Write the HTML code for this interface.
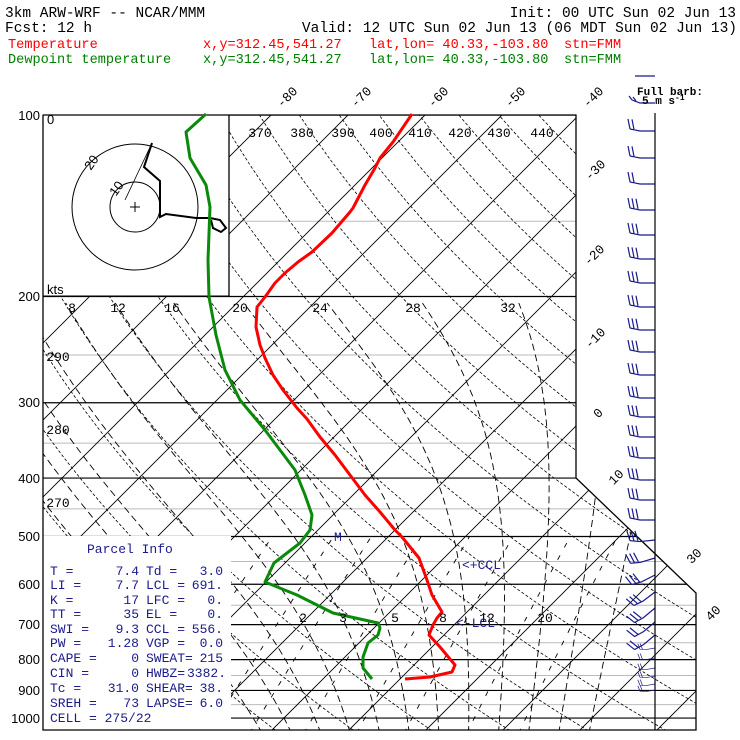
<!DOCTYPE html>
<html><head><meta charset="utf-8"><style>
html,body{margin:0;padding:0;background:#fff;}
svg{display:block;}
text{font-family:"Liberation Mono","DejaVu Sans Mono",monospace;}
.h{font-size:14.5px;fill:#000;}
.r{font-size:13.6px;fill:#f00;}
.g{font-size:13.6px;fill:#008000;}
.l{font-family:"Liberation Sans",sans-serif;font-size:13px;fill:#000;}
.b{font-size:13px;fill:#1a1a8c;}
</style></head><body>
<svg id="s" width="740" height="740" viewBox="0 0 740 740" xmlns="http://www.w3.org/2000/svg">
<defs>
<clipPath id="cp"><polygon points="43,115 576,115 576,478 696,593 696,730 43,730"/></clipPath>
</defs>
<rect width="740" height="740" fill="#fff"/>
<g id="grid" clip-path="url(#cp)"></g>
<rect x="43" y="115" width="186" height="181" fill="#fff" stroke="#000" stroke-width="1"/>
<circle cx="135" cy="207" r="25" fill="none" stroke="#000" stroke-width="1"/>
<circle cx="135" cy="207" r="63" fill="none" stroke="#000" stroke-width="1"/>
<path d="M130,207h10M135,202v10" stroke="#000" stroke-width="1"/>
<path d="M152,143 L125,200" stroke="#000" stroke-width="0.8"/>
<polyline points="152,143 144,167 160,181 160,217 166,214 196,218 210,218 220,220 226,228 221,232 213,228 211,220" fill="none" stroke="#000" stroke-width="2"/>
<text class="l" transform="translate(95,165) rotate(-55)" text-anchor="middle" font-size="12">20</text>
<text class="l" transform="translate(120,191) rotate(-55)" text-anchor="middle" font-size="12">10</text>
<text class="l" x="47" y="124" font-size="11">0</text>
<text class="l" x="47" y="294">kts</text>
<rect x="43" y="536" width="188" height="194" fill="#fff"/>
<polyline points="43,115 576,115 576,478 696,593 696,730 43,730 43,115" fill="none" stroke="#000" stroke-width="1.3"/>
<line x1="229" y1="115" x2="229" y2="296" stroke="#000" stroke-width="1.3"/>
<polyline fill="none" stroke="#0a8a0a" stroke-width="3" stroke-linejoin="round" points="206,114 186,132 190,158 206,185 210,207 208,260 209,297 216,335 225,370 240,400 255,418 265,430 280,450 295,470 305,495 312,515 310,530 300,543 274,563 265,582 297,595 333,613 378,623 380,628 378,635 368,643 363,657 363,668 372,679"/>
<polyline fill="none" stroke="#f00" stroke-width="3" stroke-linejoin="round" points="412,114 393,142 380,158 375,168 365,185 353,208 350,212 332,233 312,252 298,262 285,273 275,283 265,297 257,307 256,327 260,345 265,358 273,375 283,390 297,408 307,419 320,437 335,455 350,475 365,495 380,512 395,530 402,537 419,558 427,580 432,595 442,612 437,618 433,625 429,635 440,647 455,665 452,672 430,677 405,679"/>
<g id="barbs" stroke="#1a1a8c" stroke-width="1.2" fill="none"></g>
<line x1="655" y1="113" x2="655" y2="730" stroke="#000" stroke-width="1.2"/>
<text class="h" x="5" y="17">3km ARW-WRF -- NCAR/MMM</text>
<text class="h" x="736" y="17" text-anchor="end">Init: 00 UTC Sun 02 Jun 13</text>
<text class="h" x="5" y="32">Fcst:    12 h</text>
<text class="h" x="737" y="32" text-anchor="end">Valid: 12 UTC Sun 02 Jun 13 (06 MDT Sun 02 Jun 13)</text>
<text class="r" x="8" y="48">Temperature</text>
<text class="r" x="203" y="48">x,y=312.45,541.27</text>
<text class="r" x="369" y="48">lat,lon= 40.33,-103.80</text>
<text class="r" x="564" y="48">stn=FMM</text>
<text class="g" x="8" y="63">Dewpoint temperature</text>
<text class="g" x="203" y="63">x,y=312.45,541.27</text>
<text class="g" x="369" y="63">lat,lon= 40.33,-103.80</text>
<text class="g" x="564" y="63">stn=FMM</text>
<path d="M635,76 H655" stroke="#1a1a8c" stroke-width="1.2"/>
<path d="M655,103 H640 L632,100 M632,100 L629,96 M636,101 L633,97" stroke="#1a1a8c" stroke-width="1.2" fill="none"/>
<text x="637" y="95" font-family="Liberation Serif,serif" font-weight="bold" font-size="11">Full barb:</text>
<text x="642" y="104" font-family="Liberation Serif,serif" font-weight="bold" font-size="11">5 m s<tspan dy="-4" font-size="8">-1</tspan></text>
<g class="l" text-anchor="end">
<text x="40" y="120" class="l">100</text><text x="40" y="301" class="l">200</text><text x="40" y="407" class="l">300</text>
<text x="40" y="483" class="l">400</text><text x="40" y="541" class="l">500</text><text x="40" y="589" class="l">600</text>
<text x="40" y="629" class="l">700</text><text x="40" y="664" class="l">800</text><text x="40" y="695" class="l">900</text>
<text x="40" y="723" class="l">1000</text>
</g>
<g class="l" text-anchor="middle">
<text transform="translate(290,100) rotate(-45)">-80</text>
<text transform="translate(364,100) rotate(-45)">-70</text>
<text transform="translate(441,100) rotate(-45)">-60</text>
<text transform="translate(518,100) rotate(-45)">-50</text>
<text transform="translate(596,100) rotate(-45)">-40</text>
<text transform="translate(598,173) rotate(-45)">-30</text>
<text transform="translate(597,258) rotate(-45)">-20</text>
<text transform="translate(598,341) rotate(-45)">-10</text>
<text transform="translate(601,416) rotate(-45)">0</text>
<text transform="translate(619,480) rotate(-45)">10</text>
<text transform="translate(697,559) rotate(-45)">30</text>
<text transform="translate(716,616) rotate(-45)">40</text>
</g>
<g class="l" text-anchor="middle">
<text x="260" y="137">370</text><text x="302" y="137">380</text><text x="343" y="137">390</text><text x="381" y="137">400</text>
<text x="420" y="137">410</text><text x="460" y="137">420</text><text x="499" y="137">430</text><text x="542" y="137">440</text>
<text x="72" y="312">8</text><text x="118" y="312">12</text><text x="172" y="312">16</text><text x="240" y="312">20</text>
<text x="320" y="312">24</text><text x="413" y="312">28</text><text x="508" y="312">32</text>
<text x="58" y="361">290</text><text x="58" y="434">280</text><text x="58" y="507">270</text>
<text x="303" y="622">2</text><text x="343" y="622">3</text><text x="395" y="622">5</text>
<text x="443" y="622">8</text><text x="487" y="622">12</text><text x="545" y="622">20</text>
</g>
<text class="b" x="456" y="627" font-size="12">&lt;-LCL</text>
<text class="b" x="462" y="569" font-size="12">&lt;+CCL</text>
<text class="b" x="334" y="541" font-size="11">M</text>
<text class="b" x="87" y="553" font-size="14">Parcel Info</text>
<text class="b" x="50" y="575">T  =</text><text class="b" x="139" y="575" text-anchor="end">7.4</text><text class="b" x="146" y="575">Td =</text><text class="b" x="223" y="575" text-anchor="end">3.0</text>
<text class="b" x="50" y="589">LI =</text><text class="b" x="139" y="589" text-anchor="end">7.7</text><text class="b" x="146" y="589">LCL =</text><text class="b" x="223" y="589" text-anchor="end">691.</text>
<text class="b" x="50" y="604">K  =</text><text class="b" x="139" y="604" text-anchor="end">17</text><text class="b" x="146" y="604">LFC =</text><text class="b" x="223" y="604" text-anchor="end">0.</text>
<text class="b" x="50" y="618">TT =</text><text class="b" x="139" y="618" text-anchor="end">35</text><text class="b" x="146" y="618">EL  =</text><text class="b" x="223" y="618" text-anchor="end">0.</text>
<text class="b" x="50" y="633">SWI =</text><text class="b" x="139" y="633" text-anchor="end">9.3</text><text class="b" x="146" y="633">CCL =</text><text class="b" x="223" y="633" text-anchor="end">556.</text>
<text class="b" x="50" y="647">PW =</text><text class="b" x="139" y="647" text-anchor="end">1.28</text><text class="b" x="146" y="647">VGP =</text><text class="b" x="223" y="647" text-anchor="end">0.0</text>
<text class="b" x="50" y="662">CAPE =</text><text class="b" x="139" y="662" text-anchor="end">0</text><text class="b" x="146" y="662">SWEAT=</text><text class="b" x="223" y="662" text-anchor="end">215</text>
<text class="b" x="50" y="677">CIN =</text><text class="b" x="139" y="677" text-anchor="end">0</text><text class="b" x="146" y="677">HWBZ=</text><text class="b" x="226" y="677" text-anchor="end">3382.</text>
<text class="b" x="50" y="692">Tc =</text><text class="b" x="139" y="692" text-anchor="end">31.0</text><text class="b" x="146" y="692">SHEAR=</text><text class="b" x="223" y="692" text-anchor="end">38.</text>
<text class="b" x="50" y="707">SREH =</text><text class="b" x="139" y="707" text-anchor="end">73</text><text class="b" x="146" y="707">LAPSE=</text><text class="b" x="223" y="707" text-anchor="end">6.0</text>
<text class="b" x="50" y="722">CELL = 275/22</text>
</svg>
<script>
(function(){
var NS="http://www.w3.org/2000/svg";
var C=582,K=7.7;
function Y(p){return 115+261.9*Math.log(p/100);}
function X(T,y){return C+K*T+(420-y);}
var g=document.getElementById('grid');
function add(tag,at,par){var e=document.createElementNS(NS,tag);for(var k in at)e.setAttribute(k,at[k]);(par||g).appendChild(e);return e;}
[150,250,350,450,550,650,750,850,950].forEach(function(p){var y=Y(p);add('line',{x1:43,x2:700,y1:y,y2:y,stroke:'#bbb','stroke-width':1});});
[100,200,300,400,500,600,700,800,900,1000].forEach(function(p){var y=Y(p);add('line',{x1:43,x2:700,y1:y,y2:y,stroke:'#000','stroke-width':1.2});});
for(var T=-150;T<=60;T+=10){var y1=115,y2=730;add('line',{x1:X(T,y1),y1:y1,x2:X(T,y2),y2:y2,stroke:'#000','stroke-width':0.9});}
for(var th=240;th<=460;th+=10){var d='';for(var p=1060;p>=95;p-=10){var T=th*Math.pow(p/1000,0.2857)-273.15;var y=Y(p);d+=(d?'L':'M')+X(T,y).toFixed(1)+','+y.toFixed(1);}add('path',{d:d,fill:'none',stroke:'#000','stroke-width':0.8,'stroke-dasharray':'3,2'});}
function es(t){return 6.112*Math.exp(17.67*t/(t+243.5));}
function dTdp(Tk,p){var t=Tk-273.15;var e=es(t);var rs=0.622*e/(p-e);return (287*Tk+2.5e6*rs)/(p*(1005+2.5e6*2.5e6*rs*0.622/(287*Tk*Tk)));}
for(var tw=-12;tw<=40;tw+=4){var pts=[];var Tk=tw+273.15,p=1000;
 var Tk2=Tk;for(var pp=1000;pp<1060;pp+=5){Tk2+=dTdp(Tk2,pp)*5;}
 pts.push([1060,Tk2]);
 for(p=1000;p>=205;p-=5){pts.push([p,Tk]);Tk-=dTdp(Tk,p)*5;}
 var d='';pts.forEach(function(q){var y=Y(q[0]);d+=(d?'L':'M')+X(q[1]-273.15,y).toFixed(1)+','+y.toFixed(1);});
 add('path',{d:d,fill:'none',stroke:'#000','stroke-width':0.9,'stroke-dasharray':'7,4'});}
[1,2,3,5,8,12,20,30].forEach(function(w){var d='';for(var p=1060;p>=500;p-=10){var e=w*p/(622+w);var l=Math.log(e/6.112);var T=243.5*l/(17.67-l);var y=Y(p);d+=(d?'L':'M')+X(T,y).toFixed(1)+','+y.toFixed(1);}add('path',{d:d,fill:'none',stroke:'#000','stroke-width':0.9,'stroke-dasharray':'5,9'});});
var bg=document.getElementById('barbs');
var ys=[131,158,184,210,235,259,283,307,330,352,375,398,417,437,458,480,500,520,540,558,575,592,608,622,635,648,658,668,676,684,690];
ys.forEach(function(y,i){var ang=0,sc=1;if(y>530){ang=-Math.min(40,(y-530)*0.6);}if(y>640){sc=0.6;ang=-10;}
 var gg=add('g',{transform:'translate(655,'+y+') rotate('+ang+') scale('+sc+')'},bg);
 var nf=(i<3||i>22)?2:3;var d='M0,0 H-15 L-25,-2';
 for(var f=0;f<nf;f++){var x=-25+f*4;d+=' M'+x+','+(-2+f*0.4)+' l-2,-10';}
 add('path',{d:d},gg);});
})();
</script>
</body></html>
